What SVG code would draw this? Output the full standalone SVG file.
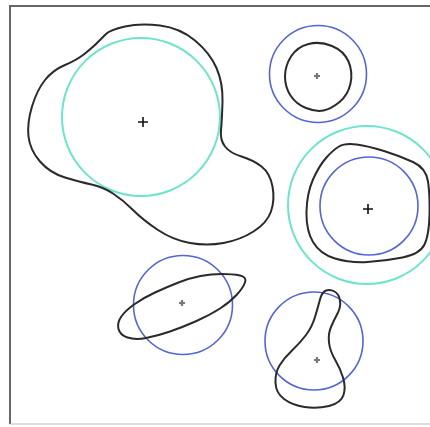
<svg xmlns="http://www.w3.org/2000/svg" width="430" height="427" viewBox="0 0 430 427">
<style>
.blob{fill:none;stroke:#2a2a2a;stroke-width:2;stroke-linejoin:round}
.cyan{fill:none;stroke:#6fe3cc;stroke-width:2}
.blue{fill:none;stroke:#5565d2;stroke-width:1.6}
.plus{stroke:#111;stroke-width:1.6}
.dot{stroke:#777;stroke-width:2.2}
.frame{stroke:#666;fill:none}
</style>
<rect width="430" height="427" fill="#fff"/>
<g id="frame">
<line class="frame" x1="9" y1="6" x2="430" y2="6" stroke-width="2"/>
<line class="frame" x1="10" y1="5" x2="10" y2="424" stroke-width="2"/>
<line x1="10" y1="424" x2="430" y2="424" stroke="#bbb" stroke-width="1.2"/>
</g>
<g id="region1">
<circle class="cyan" cx="141" cy="117" r="79"/>
<path class="blob" d="M 97.5,42.5 Q 102,38 106,34 Q 110,30 125,26.5 Q 140,23 160,25.5 Q 180,28 195,40.5 Q 210,53 216.5,68 Q 223,83 222.5,101.5 Q 222,120 221,130 Q 220,140 225,146.5 Q 230,153 241.5,156.5 Q 253,160 261.5,166.5 Q 270,173 272.5,186.5 Q 275,200 271,211.5 Q 267,223 253.5,231.5 Q 240,240 223.5,243 Q 207,246 190,243 Q 173,240 158,230 Q 143,220 133,210 Q 123,200 113,193.5 Q 103,187 91.5,184.5 Q 80,182 65,177.5 Q 50,173 40,161.5 Q 30,150 28.5,136.5 Q 27,123 32,106.5 Q 37,90 45,80 Q 53,70 65,65 Q 77,60 85,53.5 Q 93,47 97.5,42.5 Z"/>
<path class="plus" d="M138,122h10M143,117v10"/>
</g>
<g id="region2">
<circle class="blue" cx="318" cy="74" r="48.5"/>
<path class="blob" d="M 308.5,44 Q 320,41 332,46 Q 344,51 348.5,61.5 Q 353,72 350.5,83.5 Q 348,95 339.5,102 Q 331,109 323.5,110.5 Q 316,112 306,108 Q 296,104 290.5,95.5 Q 285,87 285,76.5 Q 285,66 291,56.5 Q 297,47 308.5,44 Z"/>
<path class="dot" d="M314,76h6M317,73v6"/>
</g>
<g id="region3">
<circle class="cyan" cx="367" cy="205" r="79"/>
<circle class="blue" cx="369" cy="206" r="49"/>
<path class="blob" d="M 339,146.5 Q 345,143 356.5,144.5 Q 368,146 384,151 Q 400,156 413,162 Q 426,168 428,181.5 Q 430,195 429.5,215 Q 429,235 424.5,244.5 Q 420,254 402.5,257.5 Q 385,261 367.5,262 Q 350,263 335,258.5 Q 320,254 313,242 Q 306,230 306.5,211.5 Q 307,193 313,179.5 Q 319,166 326,158 Q 333,150 339,146.5 Z"/>
<path class="plus" d="M363,209h10M368,204v10"/>
</g>
<g id="region4">
<circle class="blue" cx="183" cy="305" r="49.5"/>
<path class="blob" d="M 222,274 Q 233,274 240,275.5 Q 247,277 245,282.5 Q 243,288 236.5,295 Q 230,302 220,308.5 Q 210,315 196.5,321 Q 183,327 170,331.5 Q 157,336 146,338 Q 135,340 127.5,337.5 Q 120,335 118.5,329 Q 117,323 121,317 Q 125,311 134,304.5 Q 143,298 155,292.5 Q 167,287 178.5,282.5 Q 190,278 200.5,276 Q 211,274 222,274 Z"/>
<path class="dot" d="M179,303h6M182,300v6"/>
</g>
<g id="region5">
<circle class="blue" cx="314" cy="341" r="49"/>
<path class="blob" d="M 326,290.5 Q 330,289 334.5,291.5 Q 339,294 340,300.5 Q 341,307 337.5,313.5 Q 334,320 331,327 Q 328,334 329,342.5 Q 330,351 335,359.5 Q 340,368 343,377.5 Q 346,387 343.5,395 Q 341,403 329,406 Q 317,409 304.5,407 Q 292,405 284,399 Q 276,393 275.5,383 Q 275,373 279.5,365.5 Q 284,358 292,350.5 Q 300,343 306,335 Q 312,327 315,317 Q 318,307 320,299.5 Q 322,292 326,290.5 Z"/>
<path class="dot" d="M314,360h6M317,357v6"/>
</g>
</svg>
